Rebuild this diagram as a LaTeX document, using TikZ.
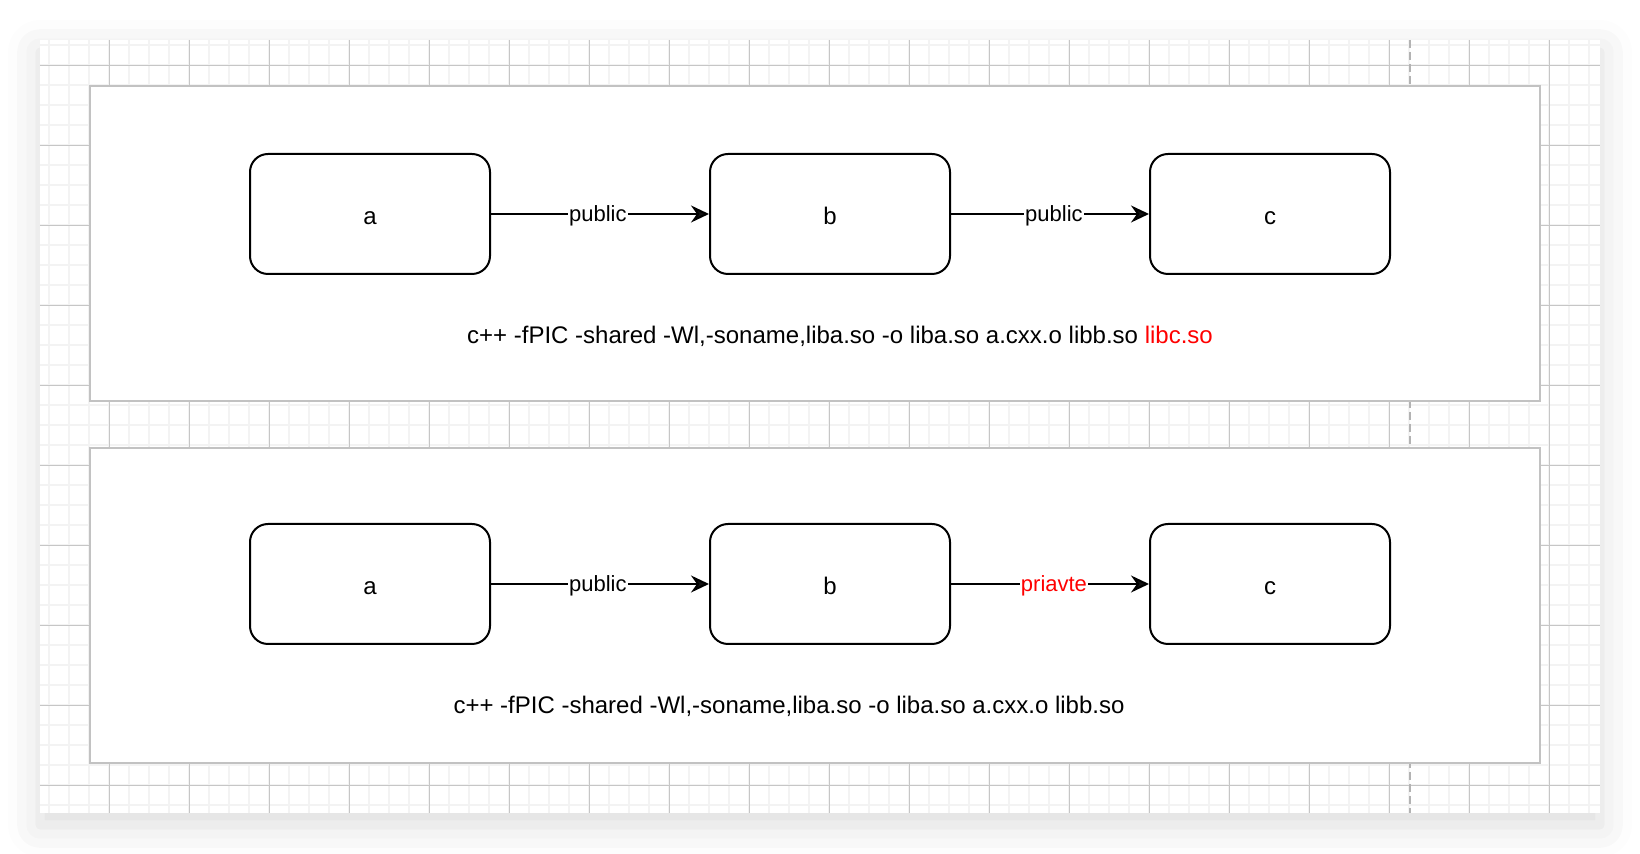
\documentclass[tikz,border=0pt]{standalone}
\usepackage{fontspec}
\setmainfont{Liberation Sans}
\usetikzlibrary{calc,shapes,arrows.meta,shadows.blur,chains,positioning}
\usepackage{color}

\definecolor{gridmin}{HTML}{F3F3F3}
\definecolor{gridmaj}{HTML}{C6C6C6}
\definecolor{panelgray}{HTML}{C2C2C2}
\definecolor{dashgray}{HTML}{B3B3B3}
\definecolor{warnred}{HTML}{FF0000}

\tikzset{
  blk/.style={draw, line width=1pt, rounded corners=9pt, fill=white,
    minimum width=120pt, minimum height=60pt, text height=10.5pt, text depth=0pt,
    font=\fontsize{12}{14}\selectfont},
  conn/.style={line width=1pt, -{Stealth[length=9pt,width=8.5pt,inset=3pt]}},
  lbl/.style={fill=white, inner sep=0.5pt, yshift=-1pt, font=\fontsize{11}{13}\selectfont},
  panel/.style={draw=panelgray, line width=1pt, fill=white},
  cmd/.style={font=\fontsize{12}{14}\selectfont}
}

\begin{document}
\begin{tikzpicture}[x=0.5pt,y=-0.5pt]
\useasboundingbox (0,0) rectangle (1640,854);

% canvas and grid
\fill[white, blur shadow={shadow xshift=0pt, shadow yshift=-6pt, shadow blur radius=16pt, shadow opacity=14}]
  (40,40) rectangle (1600,813);
\begin{scope}
\clip (40,40) rectangle (1600,813);
\foreach \x in {49.3,69.3,...,1600} \draw[gridmin, line width=1pt] (\x,40) -- (\x,813);
\foreach \y in {45.3,65.3,...,813} \draw[gridmin, line width=1pt] (40,\y) -- (1600,\y);
\foreach \x in {109.3,189.3,...,1600} \draw[gridmaj, line width=0.5pt] (\x,40) -- (\x,813);
\foreach \y in {65.3,145.3,...,813} \draw[gridmaj, line width=0.5pt] (40,\y) -- (1600,\y);
\end{scope}
\draw[dashgray, line width=0.8pt, dash pattern=on 4pt off 2pt] (1410,40) -- (1410,813);

% panels
\draw[panel] (90,86) rectangle (1540,401);
\draw[panel] (90,448) rectangle (1540,763);

\begin{scope}[shift={(370,214)},start chain=going right]
\def\toprow{1/a/0pt,2/b/109pt,3/c/99pt}
\foreach \i / \element / \gap in \toprow
  \node [blk, node distance=\gap, on chain] (t\i) {\element};
\end{scope}

\begin{scope}[shift={(370,584)},start chain=going right]
\def\lowrow{1/a/0pt,2/b/109pt,3/c/99pt}
\foreach \i / \element / \gap in \lowrow
  \node [blk, node distance=\gap, on chain] (l\i) {\element};
\end{scope}

\draw[conn] (t1) -- node[lbl, pos=.49] {\strut public} (t2);
\draw[conn] (t2) -- node[lbl, pos=.52] {\strut public} (t3);
\draw[conn] (l1) -- node[lbl, pos=.49] {\strut public} (l2);
\draw[conn] (l2) -- node[lbl, pos=.52, text=warnred] {\strut priavte} (l3);

\node[cmd] (tcmd) at (840,338) {\strut c++ -fPIC -shared -Wl,-soname,liba.so -o liba.so a.cxx.o libb.so \textcolor{warnred}{libc.so}};
\node[cmd] (lcmd) at (789,708) {\strut c++ -fPIC -shared -Wl,-soname,liba.so -o liba.so a.cxx.o libb.so};

\end{tikzpicture}
\end{document}
